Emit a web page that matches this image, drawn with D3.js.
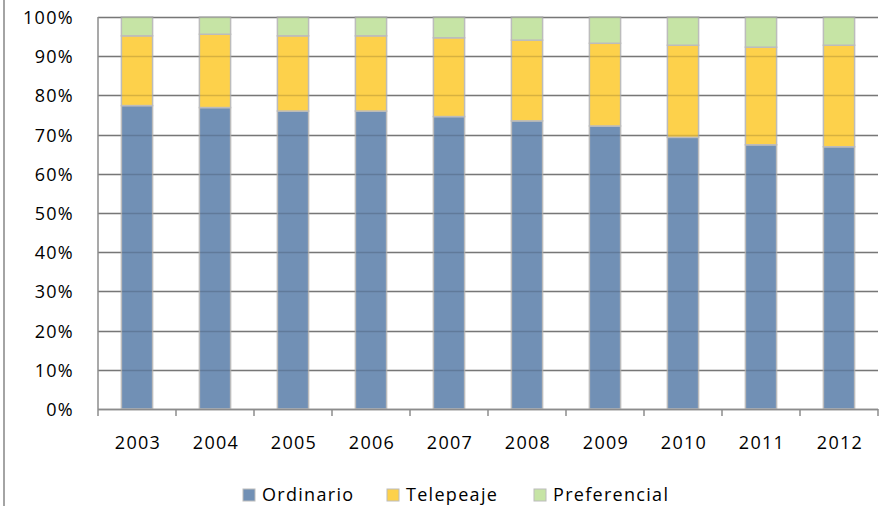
<html>
<head>
<meta charset="utf-8">
<title>Ordinario / Telepeaje / Preferencial</title>
<script src="https://d3js.org/d3.v7.min.js"></script>
<style>
  body { margin: 0; background: #fff; }
  text { font-family: "Open Sans", Lato, sans-serif; fill: #000; font-size: 18px; letter-spacing: 1.3px; }
</style>
</head>
<body>
<div id="chart"></div>
<script>
// data (percent of each year)
var years = ["2003","2004","2005","2006","2007","2008","2009","2010","2011","2012"];
var ordinario = [77.4, 76.9, 76.0, 76.0, 74.6, 73.5, 72.2, 69.3, 67.4, 66.9];
var telepeaje = [17.8, 18.7, 19.2, 19.2, 20.1, 20.6, 21.1, 23.5, 24.9, 25.9];
var preferencial = [4.8, 4.4, 4.8, 4.8, 5.3, 5.9, 6.7, 7.2, 7.7, 7.2];
var seriesNames = ["Ordinario", "Telepeaje", "Preferencial"];
var yTicks = [0, 0.1, 0.2, 0.3, 0.4, 0.5, 0.6, 0.7, 0.8, 0.9, 1];

var colors = { Ordinario: "#7190b5", Telepeaje: "#fdd14b", Preferencial: "#c6e4a5" };

var W = 885, H = 506;
var margin = {top: 17, right: 7, bottom: 97, left: 98};
var width = W - margin.left - margin.right,
    height = H - margin.top - margin.bottom;

var rows = years.map(function(y, i) {
  return {year: y, Ordinario: ordinario[i], Telepeaje: telepeaje[i], Preferencial: preferencial[i]};
});

var stack = d3.stack().keys(seriesNames).offset(d3.stackOffsetExpand);
var layers = stack(rows);

var svg = d3.select("#chart").append("svg")
    .attr("width", W).attr("height", H);

// chart border on the left edge
svg.append("line")
    .attr("x1", 4).attr("x2", 4).attr("y1", 0).attr("y2", H)
    .attr("stroke", "#868686").attr("stroke-width", 1.5);

var g = svg.append("g")
    .attr("transform", "translate(" + margin.left + "," + margin.top + ")");

var x = d3.scaleBand().domain(years).range([0, width]).paddingInner(0.6).paddingOuter(0.3);
var xb = d3.scaleBand().domain(years).range([0, width]);
var y = d3.scaleLinear().domain([0, 1]).range([height, 0]);

// gridlines behind
g.append("g").selectAll("line")
  .data(yTicks).enter().append("line")
    .attr("x1", 0).attr("x2", width)
    .attr("y1", function(d) { return Math.round(y(d)) + 0.5; })
    .attr("y2", function(d) { return Math.round(y(d)) + 0.5; })
    .attr("stroke", "#8c8c8c").attr("stroke-width", 1.5);

// bars
g.append("g").selectAll("g")
  .data(layers).enter().append("g")
    .attr("fill", function(d) { return colors[d.key]; })
  .selectAll("rect")
  .data(function(d) { return d; }).enter().append("rect")
    .attr("x", function(d) { return x(d.data.year); })
    .attr("width", x.bandwidth())
    .attr("y", function(d) { return y(d[1]); })
    .attr("height", function(d) { return y(d[0]) - y(d[1]); })
    .attr("stroke", "#bcbcbc").attr("stroke-width", 1.5);

// gridlines show faintly through the bars
g.append("g").selectAll("line")
  .data(yTicks.slice(1)).enter().append("line")
    .attr("x1", 0).attr("x2", width)
    .attr("y1", function(d) { return Math.round(y(d)) + 0.5; })
    .attr("y2", function(d) { return Math.round(y(d)) + 0.5; })
    .attr("stroke", "#000").attr("stroke-opacity", 0.15).attr("stroke-width", 1.5);

// left axis line
g.append("line")
    .attr("x1", 0).attr("x2", 0).attr("y1", 0).attr("y2", height)
    .attr("stroke", "#8c8c8c").attr("stroke-width", 1.5);

// bottom axis with ticks between categories
g.append("line")
    .attr("x1", 0).attr("x2", width).attr("y1", height + 0.5).attr("y2", height + 0.5)
    .attr("stroke", "#8c8c8c").attr("stroke-width", 1.5);
var tickPos = years.map(function(d) { return xb(d); }).concat([width]);
g.append("g").selectAll("line")
  .data(tickPos).enter().append("line")
    .attr("x1", function(d) { return d; }).attr("x2", function(d) { return d; })
    .attr("y1", height).attr("y2", height + 7)
    .attr("stroke", "#8c8c8c").attr("stroke-width", 1.5);

// y labels
g.append("g").selectAll("text")
  .data(yTicks).enter().append("text")
    .attr("x", -24).attr("y", function(d) { return y(d) + 7; })
    .attr("text-anchor", "end")
    .text(function(d) { return Math.round(d * 100) + "%"; });

// x labels
g.append("g").selectAll("text")
  .data(years).enter().append("text")
    .attr("x", function(d) { return xb(d) + xb.bandwidth() / 2 + 1; })
    .attr("y", height + 40)
    .attr("text-anchor", "middle")
    .text(function(d) { return d; });

// legend
var legendX = [243, 387, 534];
var legend = svg.append("g").selectAll("g")
  .data(seriesNames).enter().append("g")
    .attr("transform", function(d, i) { return "translate(" + legendX[i] + ",489)"; });
legend.append("rect")
    .attr("width", 12).attr("height", 12)
    .attr("fill", function(d) { return colors[d]; })
    .attr("stroke", "#bcbcbc").attr("stroke-width", 1);
legend.append("text")
    .attr("x", 19).attr("y", 12)
    .text(function(d) { return d; });
</script>
</body>
</html>
